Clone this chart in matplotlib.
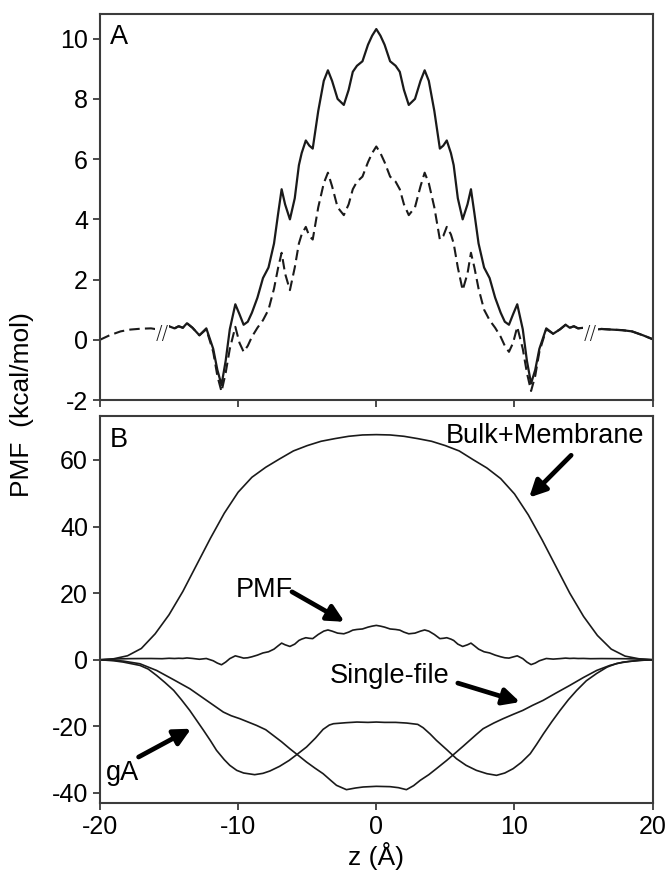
import matplotlib
matplotlib.use("Agg")
from matplotlib import pyplot as plt
import numpy as np

plt.rcParams['font.family'] = ['Liberation Sans', 'DejaVu Sans']
plt.rcParams['axes.unicode_minus'] = False

# panel A: PMF profiles (kcal/mol) along the channel axis z (Å)
z_a = [-20, -19.3, -18.5, -17.8, -17, -16.3, -15.5, -15.0, -14.6, -14.3, -14.0, -13.7, -13.3,
       -12.8, -12.3, -11.8, -11.5, -11.2, -10.9, -10.6, -10.2, -9.9, -9.6, -9.3, -9.0, -8.6,
       -8.2, -7.8, -7.4, -7.1, -6.85, -6.6, -6.25, -5.9, -5.6, -5.4, -5.1, -4.85, -4.6, -4.2,
       -3.8, -3.5, -3.2, -2.8, -2.35, -2.0, -1.7, -1.4, -1.0, -0.6, -0.3, 0,
       0.3, 0.6, 1.0, 1.4, 1.7, 2.0, 2.35, 2.8, 3.2, 3.5, 3.8, 4.2, 4.6, 4.85, 5.1, 5.4, 5.6,
       5.9, 6.25, 6.6, 6.85, 7.1, 7.4, 7.8, 8.2, 8.6, 9.0, 9.3, 9.6, 9.9, 10.2, 10.6, 10.9,
       11.2, 11.5, 11.8, 12.3, 12.8, 13.3, 13.7, 14.0, 14.3, 14.6, 15.0, 15.5, 16.3, 17, 17.8,
       18.5, 19.3, 20]
pmf_solid = [0.0, 0.15, 0.28, 0.34, 0.37, 0.38, 0.32, 0.45, 0.38, 0.45, 0.40, 0.55, 0.40,
             0.15, 0.38, -0.3, -1.0, -1.5, -0.7, 0.35, 1.18, 0.85, 0.5, 0.6, 0.9, 1.4,
             2.05, 2.4, 3.2, 4.2, 5.0, 4.5, 4.0, 4.7, 5.8, 6.2, 6.62, 6.45, 6.35, 7.6,
             8.6, 8.95, 8.6, 8.0, 7.8, 8.3, 8.9, 9.1, 9.25, 9.8, 10.1, 10.32,
             10.1, 9.8, 9.25, 9.1, 8.9, 8.3, 7.8, 8.0, 8.6, 8.95, 8.6, 7.6, 6.35, 6.45, 6.62,
             6.2, 5.8, 4.7, 4.0, 4.5, 5.0, 4.2, 3.2, 2.4, 2.05, 1.4, 0.9, 0.6, 0.5, 0.85,
             1.18, 0.35, -0.7, -1.45, -1.0, -0.3, 0.38, 0.2, 0.35, 0.5, 0.4, 0.45, 0.38,
             0.4, 0.32, 0.36, 0.34, 0.32, 0.28, 0.15, 0.02]
pmf_dashed = [0.0, 0.15, 0.28, 0.34, 0.37, 0.38, 0.32, 0.45, 0.38, 0.45, 0.40, 0.55, 0.40,
              0.15, 0.35, -0.4, -1.2, -1.72, -1.1, -0.3, 0.43, -0.1, -0.4, -0.2, 0.1, 0.4,
              0.65, 1.0, 1.7, 2.4, 2.89, 2.2, 1.65, 2.4, 3.2, 3.5, 3.75, 3.45, 3.33, 4.4,
              5.2, 5.55, 5.1, 4.4, 4.14, 4.5, 5.0, 5.25, 5.42, 5.9, 6.2, 6.42,
              6.2, 5.9, 5.42, 5.25, 5.0, 4.5, 4.14, 4.4, 5.1, 5.55, 5.2, 4.4, 3.33, 3.45,
              3.75, 3.5, 3.2, 2.4, 1.65, 2.2, 2.89, 2.4, 1.7, 1.0, 0.65, 0.4, 0.1, -0.2,
              -0.4, -0.1, 0.43, -0.3, -1.1, -1.7, -1.2, -0.4, 0.35, 0.2, 0.35, 0.5, 0.4,
              0.45, 0.38, 0.4, 0.32, 0.36, 0.34, 0.32, 0.28, 0.15, 0.02]
z_break = [-15.5, 15.5]

# panel B: decomposition of the PMF
z_bulk = list(range(-20, 21))
bulk_membrane = [0.0, 0.3, 1.2, 3.4, 7.8, 13.5, 20.5, 28.5, 36.5, 44.0, 50.3, 54.8, 57.8,
                 60.3, 62.7, 64.3, 65.6, 66.4, 67.1, 67.5, 67.6, 67.5, 67.1, 66.4, 65.6,
                 64.3, 62.7, 60.1, 57.6, 54.4, 49.8, 43.5, 36.0, 28.0, 20.0, 13.0, 7.3,
                 3.2, 1.1, 0.3, 0.0]

z_ga = [-20, -19, -18.3, -17.1, -16.5, -15.9, -15.3, -14.66, -14.1, -13.5, -13, -12.5, -12,
        -11.56, -11, -10.6, -10.1, -9.6, -8.8, -8.2, -7.7, -7, -6.3, -5.7, -5.05, -4.4,
        -3.85, -3.4, -3.1, -2.2, -1.4, -0.6, 0,
        0.6, 1.4, 2.2, 3.0, 3.39, 3.9, 4.35, 5.1, 5.8, 6.5, 7.24, 8.0, 8.7, 9.3, 9.9, 10.5,
        11.14, 11.6, 12.1, 12.7, 13.3, 13.9, 14.5, 15.2, 15.95, 16.7, 17.4, 18.3, 19.2, 20]
ga = [0.0, -0.3, -0.7, -1.7, -2.8, -4.7, -6.8, -9.2, -12.0, -15.2, -18.2, -21.2, -24.3,
      -27.2, -30.0, -31.7, -33.2, -34.0, -34.5, -34.1, -33.4, -32.0, -30.2, -28.3, -26.2,
      -23.5, -20.9, -19.6, -19.2, -18.9, -18.7, -18.8, -18.7,
      -18.8, -18.8, -19.0, -19.4, -20.4, -22.3, -24.2, -27.0, -29.7, -31.7, -33.2, -34.2,
      -34.7, -34.0, -32.7, -30.8, -28.2, -25.4, -22.2, -18.6, -15.2, -12.0, -9.2, -6.3,
      -4.1, -2.2, -1.1, -0.5, -0.15, 0.0]

z_single = [-20, -19, -18.3, -17.1, -15.9, -14.66, -13.49, -12.28, -11.07, -10.5, -9.87,
            -8.67, -8, -7.46, -6.86, -6.26, -5.65, -5.05, -4.45, -3.85, -3.3, -2.88, -2.16,
            -1.5, -0.95, 0,
            1.0, 1.6, 2.18, 2.7, 3.18, 3.8, 4.35, 5.1, 5.8, 6.3, 6.76, 7.25, 7.73, 8.5, 9.17,
            9.9, 10.6, 11.3, 12.07, 13.0, 14.0, 15.0, 15.95, 16.9, 17.85, 19, 20]
single_file = [0.0, -0.15, -0.4, -1.2, -3.2, -6.0, -8.7, -12.2, -15.7, -16.8, -17.7,
               -19.7, -21.0, -22.7, -24.6, -26.7, -28.7, -30.7, -32.5, -34.2, -36.2, -37.7,
               -39.0, -38.5, -38.2, -38.0,
               -38.1, -38.4, -39.0, -37.8, -36.2, -34.5, -32.7, -30.2, -27.7, -25.9, -24.2,
               -22.4, -20.7, -19.0, -17.7, -16.4, -15.2, -13.7, -12.2, -10.0, -7.7, -5.3,
               -3.2, -1.7, -0.7, -0.2, 0.0]

x_ticks = [-20, -10, 0, 10, 20]
ticks_a = [-2, 0, 2, 4, 6, 8, 10]
ticks_b = [-40, -20, 0, 20, 40, 60]

line_col = '#1a1a1a'
spine_col = '#3c3c3c'
fs = 18


def style_axes(ax):
    for sp in ax.spines.values():
        sp.set_color(spine_col)
        sp.set_linewidth(1.5)
    ax.tick_params(direction='out', length=5, width=1.3, color=spine_col, labelsize=fs)
    ax.set_xlim(-20, 20)
    ax.set_xticks(x_ticks)


def main() -> None:
    fig = plt.figure(figsize=(6.66, 8.86), dpi=100)
    ax_a = fig.add_axes([0.150, 0.5485, 0.830, 0.4357])
    ax_b = fig.add_axes([0.150, 0.0937, 0.830, 0.4368])

    # --- panel A
    style_axes(ax_a)
    z_arr = np.array(z_a)
    solid = np.array(pmf_solid)
    keep = z_arr >= z_break[0]
    ax_a.plot(z_arr[keep], solid[keep], color=line_col, lw=1.6)
    ax_a.plot(z_a, pmf_dashed, color=line_col, lw=1.5, ls=(0, (5, 2.5)))
    for zb in z_break:
        ax_a.text(zb, 0.2, '//', fontsize=14, ha='center', va='center', color=line_col,
                  family='DejaVu Sans', fontweight='light',
                  bbox=dict(boxstyle='square,pad=0.02', fc='white', ec='none'))
    ax_a.set_ylim(-2, 10.82)
    ax_a.set_yticks(ticks_a)
    ax_a.set_xticklabels([])
    ax_a.text(0.018, 0.975, 'A', transform=ax_a.transAxes, fontsize=fs + 1.5,
              ha='left', va='top')

    # --- panel B
    style_axes(ax_b)
    for zz, vv in [(z_bulk, bulk_membrane), (z_a, pmf_solid), (z_ga, ga),
                   (z_single, single_file)]:
        ax_b.plot(zz, vv, color=line_col, lw=1.2)
    ax_b.set_ylim(-43, 73.2)
    ax_b.set_yticks(ticks_b)
    ax_b.text(0.018, 0.972, 'B', transform=ax_b.transAxes, fontsize=fs + 1.5,
              ha='left', va='top')

    arrow = dict(arrowstyle='-|>,head_width=0.5,head_length=1.0', color='black',
                 lw=3.4, shrinkA=0, shrinkB=0)
    labels = [
        ('Bulk+Membrane', (12.2, 67.2), (14.1, 61.4), (11.06, 48.7)),
        ('PMF', (-8.1, 20.8), (-6.1, 20.4), (-2.3, 11.4)),
        ('Single-file', (1.0, -4.8), (5.9, -7.0), (10.4, -12.7)),
        ('gA', (-18.4, -34.0), (-17.2, -29.2), (-13.4, -20.7)),
    ]
    for txt, pos, tail, tip in labels:
        ax_b.text(pos[0], pos[1], txt, fontsize=fs + 1.5, ha='center', va='center')
        ax_b.annotate('', xy=tip, xytext=tail, arrowprops=arrow)

    ax_b.set_xlabel('z (Å)', fontsize=fs + 1, labelpad=2)
    fig.text(0.033, 0.543, 'PMF  (kcal/mol)', rotation=90, fontsize=fs + 1,
             ha='center', va='center')

    fig.savefig('out.png', dpi=100)


if __name__ == '__main__':
    main()
